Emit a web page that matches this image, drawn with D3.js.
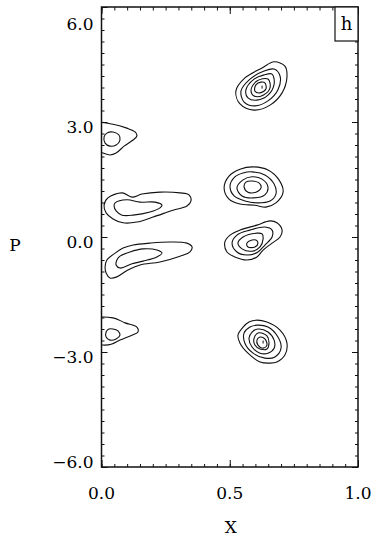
<!DOCTYPE html>
<html><head><meta charset="utf-8">
<script src="https://cdn.jsdelivr.net/npm/d3@7"></script>
<style>
html,body{margin:0;padding:0;background:#fff;}
svg{display:block;}
text{font-family:"DejaVu Serif","Liberation Serif",serif;fill:#000;}
</style></head>
<body>
<svg id="chart" width="376" height="540"></svg>
<script>
// ---- data (x, P) ----
const xTickValues = [0.0, 0.5, 1.0];
const xTickLabels = ["0.0", "0.5", "1.0"];
const yTickValues = [-6, -3, 0, 3, 6];
const yTickLabels = ["\u22126.0", "\u22123.0", "0.0", "3.0", "6.0"];
const xLabel = "X";
const yLabel = "P";
const panelLabel = "h";

// blob A (x~0.62, P~3.9)
const ringA1 = [[0.673,4.57],[0.715,4.46],[0.723,4.17],[0.704,3.76],[0.657,3.44],[0.595,3.31],[0.540,3.47],[0.524,3.81],[0.559,4.15],[0.626,4.41]];
const ringA2 = [[0.673,4.38],[0.696,4.20],[0.688,3.84],[0.649,3.55],[0.598,3.42],[0.556,3.52],[0.544,3.81],[0.579,4.12],[0.634,4.33]];
const ringA3 = [[0.665,4.25],[0.673,3.99],[0.649,3.70],[0.606,3.57],[0.571,3.63],[0.563,3.84],[0.595,4.12],[0.634,4.23]];
const ringA4 = [[0.649,4.12],[0.657,3.89],[0.630,3.70],[0.595,3.68],[0.583,3.84],[0.606,4.07]];
const ringA5 = [[0.637,4.02],[0.641,3.86],[0.618,3.76],[0.598,3.81],[0.602,3.97],[0.622,4.04]];
// blob B (x~0.59, P~1.3)
const ringB1 = [[0.591,1.83],[0.649,1.75],[0.692,1.49],[0.708,1.17],[0.680,0.89],[0.641,0.78],[0.598,0.83],[0.540,0.86],[0.497,0.99],[0.478,1.28],[0.497,1.59],[0.540,1.77]];
const ringB2 = [[0.587,1.70],[0.637,1.62],[0.673,1.38],[0.680,1.12],[0.657,0.94],[0.610,0.89],[0.559,0.94],[0.517,1.07],[0.501,1.33],[0.520,1.57],[0.552,1.67]];
const ringB3 = [[0.587,1.57],[0.626,1.51],[0.649,1.30],[0.637,1.10],[0.591,1.02],[0.548,1.07],[0.528,1.28],[0.552,1.49]];
const ringB4 = [[0.587,1.46],[0.614,1.41],[0.622,1.28],[0.602,1.17],[0.571,1.17],[0.556,1.30],[0.563,1.43]];
// blob C (x~0.59, P~-0.15)
const ringC1 = [[0.657,0.42],[0.684,0.37],[0.704,0.18],[0.696,0.00],[0.665,-0.16],[0.630,-0.34],[0.606,-0.52],[0.567,-0.60],[0.520,-0.52],[0.489,-0.39],[0.481,-0.13],[0.501,0.05],[0.540,0.18],[0.606,0.31]];
const ringC2 = [[0.637,0.26],[0.665,0.18],[0.665,0.00],[0.637,-0.21],[0.610,-0.39],[0.571,-0.47],[0.528,-0.39],[0.509,-0.16],[0.528,0.05],[0.579,0.18]];
const ringC3 = [[0.606,0.10],[0.626,0.08],[0.630,-0.05],[0.618,-0.26],[0.587,-0.37],[0.548,-0.31],[0.532,-0.16],[0.552,0.00]];
const ringC4 = [[0.587,-0.08],[0.602,-0.08],[0.610,-0.16],[0.598,-0.26],[0.571,-0.26],[0.567,-0.16]];
// blob D (x~0.63, P~-2.75)
const ringD1 = [[0.602,-2.17],[0.645,-2.22],[0.696,-2.43],[0.723,-2.77],[0.715,-3.08],[0.684,-3.26],[0.657,-3.29],[0.618,-3.26],[0.571,-3.03],[0.540,-2.77],[0.532,-2.56],[0.552,-2.35],[0.575,-2.22]];
const ringD2 = [[0.606,-2.30],[0.649,-2.35],[0.688,-2.61],[0.700,-2.90],[0.676,-3.13],[0.637,-3.16],[0.591,-3.03],[0.559,-2.77],[0.556,-2.50],[0.579,-2.35]];
const ringD3 = [[0.610,-2.40],[0.649,-2.48],[0.673,-2.69],[0.673,-2.90],[0.649,-3.03],[0.618,-3.03],[0.587,-2.87],[0.575,-2.64],[0.587,-2.48]];
const ringD4 = [[0.614,-2.50],[0.645,-2.58],[0.653,-2.77],[0.645,-2.92],[0.618,-2.92],[0.598,-2.82],[0.595,-2.64]];
const ringD5 = [[0.618,-2.61],[0.637,-2.66],[0.645,-2.82],[0.630,-2.90],[0.610,-2.82],[0.606,-2.69]];
// blob E (x~0.03, P~2.6)
const ringE1 = [[-0.021,2.96],[0.045,2.94],[0.099,2.84],[0.131,2.74],[0.138,2.64],[0.123,2.53],[0.088,2.37],[0.057,2.19],[0.033,2.14],[0.006,2.19],[-0.021,2.27]];
const ringE2 = [[0.045,2.74],[0.068,2.66],[0.072,2.53],[0.057,2.40],[0.033,2.37],[0.014,2.45],[0.010,2.61],[0.021,2.71]];
// blob F (x~0.1, P~0.8)
const ringF1 = [[0.025,1.02],[0.080,1.15],[0.119,1.04],[0.158,1.12],[0.228,1.17],[0.306,1.15],[0.341,1.10],[0.349,0.94],[0.333,0.81],[0.279,0.70],[0.201,0.52],[0.138,0.39],[0.084,0.37],[0.045,0.47],[0.018,0.63],[0.010,0.83]];
const ringF2 = [[0.053,0.89],[0.099,0.97],[0.150,0.91],[0.209,0.91],[0.236,0.83],[0.228,0.76],[0.189,0.65],[0.123,0.57],[0.080,0.57],[0.057,0.68],[0.049,0.81]];
// blob G (x~0.1, P~-0.5)
const ringG1 = [[0.123,-0.21],[0.189,-0.16],[0.267,-0.13],[0.333,-0.16],[0.353,-0.26],[0.345,-0.39],[0.306,-0.50],[0.228,-0.65],[0.150,-0.73],[0.103,-0.86],[0.060,-1.04],[0.033,-1.07],[0.018,-0.94],[0.014,-0.78],[0.021,-0.60],[0.053,-0.42],[0.084,-0.29]];
const ringG2 = [[0.072,-0.50],[0.111,-0.39],[0.162,-0.31],[0.216,-0.34],[0.236,-0.42],[0.216,-0.52],[0.162,-0.63],[0.119,-0.70],[0.072,-0.81],[0.057,-0.73],[0.060,-0.60]];
// blob H (x~0.03, P~-2.5)
const ringH1 = [[-0.021,-2.14],[0.045,-2.11],[0.092,-2.24],[0.138,-2.35],[0.142,-2.48],[0.119,-2.56],[0.072,-2.69],[0.041,-2.79],[0.010,-2.82],[-0.021,-2.77]];
const ringH2 = [[0.045,-2.40],[0.064,-2.45],[0.072,-2.56],[0.057,-2.66],[0.033,-2.69],[0.018,-2.61],[0.018,-2.48],[0.029,-2.40]];
// peak markers
const peakDots = [[0.626,3.91],[0.630,-2.74]];

const contours = [ringA1,ringA2,ringA3,ringA4,ringA5,ringB1,ringB2,ringB3,ringB4,
  ringC1,ringC2,ringC3,ringC4,ringD1,ringD2,ringD3,ringD4,ringD5,
  ringE1,ringE2,ringF1,ringF2,ringG1,ringG2,ringH1,ringH2];

// ---- layout ----
const L = 101.5, R = 358, T = 7, B = 467;
const x = d3.scaleLinear().domain([0, 1]).range([L, R]);
const y = d3.scaleLinear().domain([-6, 6]).range([B, T]);

const svg = d3.select("#chart");
svg.append("defs").append("clipPath").attr("id","plotclip")
  .append("rect").attr("x",L).attr("y",T).attr("width",R-L).attr("height",B-T);

const line = d3.line().x(d => x(d[0])).y(d => y(d[1]))
  .curve(d3.curveCatmullRomClosed.alpha(0.5));

const g = svg.append("g").attr("clip-path","url(#plotclip)");
g.selectAll("path.ct").data(contours).join("path")
  .attr("class","ct").attr("d", line)
  .attr("fill","none").attr("stroke","#111").attr("stroke-width",1.1);
g.selectAll("line.pk").data(peakDots).join("line")
  .attr("class","pk")
  .attr("x1", d => x(d[0])).attr("x2", d => x(d[0]))
  .attr("y1", d => y(d[1]) - 1.5).attr("y2", d => y(d[1]) + 1.5)
  .attr("stroke","#111").attr("stroke-width",1);

// ---- axes (ticks inward on all four sides) ----
const xMinor = d3.range(0, 1.0001, 0.05);
const yMinor = d3.range(-6, 6.0001, 0.3);
function addAxis(axisFn, scale, transform, values, size){
  const a = svg.append("g").attr("transform", transform)
    .call(axisFn(scale).tickValues(values).tickSize(size).tickFormat(""));
  a.select(".domain").remove();
  a.selectAll("line").attr("stroke","#111").attr("stroke-width",1);
}
addAxis(d3.axisBottom, x, `translate(0,${B})`, xMinor, -3);
addAxis(d3.axisBottom, x, `translate(0,${B})`, xTickValues, -7);
addAxis(d3.axisTop, x, `translate(0,${T})`, xMinor, -3.5);
addAxis(d3.axisTop, x, `translate(0,${T})`, xTickValues, -7);
addAxis(d3.axisLeft, y, `translate(${L},0)`, yMinor, -3);
addAxis(d3.axisLeft, y, `translate(${L},0)`, yTickValues, -6);
addAxis(d3.axisRight, y, `translate(${R},0)`, yMinor, -3);
addAxis(d3.axisRight, y, `translate(${R},0)`, yTickValues, -6);

svg.append("rect").attr("x",L).attr("y",T).attr("width",R-L).attr("height",B-T)
  .attr("fill","none").attr("stroke","#111").attr("stroke-width",1.5);

// tick labels
svg.append("g").selectAll("text").data(yTickValues).join("text")
  .attr("x", L - 8)
  .attr("y", d => Math.min(Math.max(y(d) + 5, T + 17), B - 5))
  .attr("dy","0.35em").attr("text-anchor","end")
  .style("font-size","17px")
  .text((d,i) => yTickLabels[i]);
svg.append("g").selectAll("text").data(xTickValues).join("text")
  .attr("x", d => x(d)).attr("y", 493)
  .attr("dy","0.35em").attr("text-anchor","middle")
  .style("font-size","17px")
  .text((d,i) => xTickLabels[i]);

// axis titles
svg.append("text").attr("x", x(0.5) + 1).attr("y", 527).attr("dy","0.35em")
  .attr("text-anchor","middle").style("font-size","17px").text(xLabel);
svg.append("text").attr("x", 15).attr("y", 245).attr("dy","0.35em")
  .attr("text-anchor","middle").style("font-size","17px").text(yLabel);

// panel label box
svg.append("rect").attr("x", 335).attr("y", T).attr("width", R - 335).attr("height", 34)
  .attr("fill","#fff").attr("stroke","#111").attr("stroke-width",1.2);
svg.append("text").attr("x", (335 + R) / 2).attr("y", 24).attr("dy","0.35em")
  .attr("text-anchor","middle").style("font-size","18px").text(panelLabel);
</script>
</body></html>
